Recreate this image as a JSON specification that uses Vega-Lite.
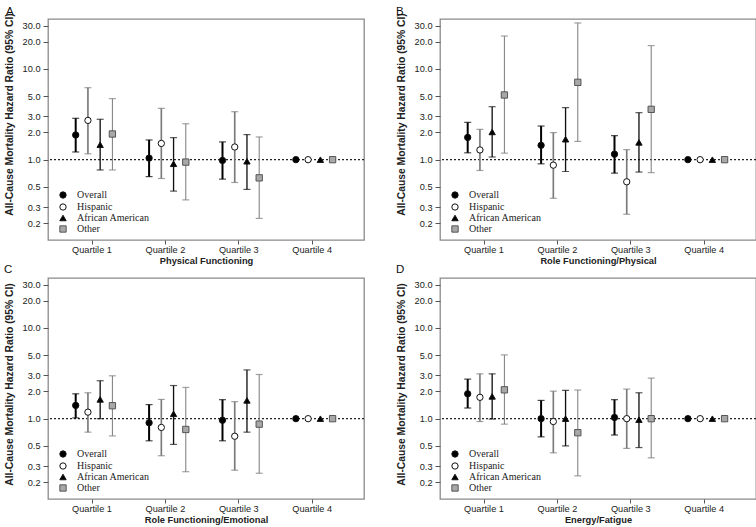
{
  "$schema": "https://vega.github.io/schema/vega-lite/v6.json",
  "padding": {"left": 3, "top": 5, "right": 2, "bottom": 0},
  "background": "white",
  "data": {"values": [
    {"panel":"A","q":"Quartile 1","s":"Overall","hr":1.87,"lo":1.215,"hi":2.86},
    {"panel":"A","q":"Quartile 1","s":"Hispanic","hr":2.71,"lo":1.16,"hi":6.22},
    {"panel":"A","q":"Quartile 1","s":"African American","hr":1.46,"lo":0.77,"hi":2.79},
    {"panel":"A","q":"Quartile 1","s":"Other","hr":1.92,"lo":0.77,"hi":4.71},
    {"panel":"A","q":"Quartile 2","s":"Overall","hr":1.04,"lo":0.65,"hi":1.65},
    {"panel":"A","q":"Quartile 2","s":"Hispanic","hr":1.51,"lo":0.62,"hi":3.68},
    {"panel":"A","q":"Quartile 2","s":"African American","hr":0.9,"lo":0.45,"hi":1.75},
    {"panel":"A","q":"Quartile 2","s":"Other","hr":0.94,"lo":0.36,"hi":2.49},
    {"panel":"A","q":"Quartile 3","s":"Overall","hr":0.98,"lo":0.61,"hi":1.57},
    {"panel":"A","q":"Quartile 3","s":"Hispanic","hr":1.38,"lo":0.56,"hi":3.38},
    {"panel":"A","q":"Quartile 3","s":"African American","hr":0.96,"lo":0.47,"hi":1.89},
    {"panel":"A","q":"Quartile 3","s":"Other","hr":0.63,"lo":0.225,"hi":1.78},
    {"panel":"A","q":"Quartile 4","s":"Overall","hr":1,"lo":null,"hi":null},
    {"panel":"A","q":"Quartile 4","s":"Hispanic","hr":1,"lo":null,"hi":null},
    {"panel":"A","q":"Quartile 4","s":"African American","hr":1,"lo":null,"hi":null},
    {"panel":"A","q":"Quartile 4","s":"Other","hr":1,"lo":null,"hi":null},

    {"panel":"B","q":"Quartile 1","s":"Overall","hr":1.76,"lo":1.19,"hi":2.58},
    {"panel":"B","q":"Quartile 1","s":"Hispanic","hr":1.28,"lo":0.76,"hi":2.16},
    {"panel":"B","q":"Quartile 1","s":"African American","hr":2.02,"lo":1.07,"hi":3.84},
    {"panel":"B","q":"Quartile 1","s":"Other","hr":5.17,"lo":1.18,"hi":23.1},
    {"panel":"B","q":"Quartile 2","s":"Overall","hr":1.44,"lo":0.9,"hi":2.35},
    {"panel":"B","q":"Quartile 2","s":"Hispanic","hr":0.87,"lo":0.375,"hi":1.99},
    {"panel":"B","q":"Quartile 2","s":"African American","hr":1.68,"lo":0.74,"hi":3.75},
    {"panel":"B","q":"Quartile 2","s":"Other","hr":7.13,"lo":1.59,"hi":32.2},
    {"panel":"B","q":"Quartile 3","s":"Overall","hr":1.15,"lo":0.71,"hi":1.84},
    {"panel":"B","q":"Quartile 3","s":"Hispanic","hr":0.57,"lo":0.25,"hi":1.29},
    {"panel":"B","q":"Quartile 3","s":"African American","hr":1.55,"lo":0.73,"hi":3.3},
    {"panel":"B","q":"Quartile 3","s":"Other","hr":3.59,"lo":0.72,"hi":18.1},
    {"panel":"B","q":"Quartile 4","s":"Overall","hr":1,"lo":null,"hi":null},
    {"panel":"B","q":"Quartile 4","s":"Hispanic","hr":1,"lo":null,"hi":null},
    {"panel":"B","q":"Quartile 4","s":"African American","hr":1,"lo":null,"hi":null},
    {"panel":"B","q":"Quartile 4","s":"Other","hr":1,"lo":null,"hi":null},

    {"panel":"C","q":"Quartile 1","s":"Overall","hr":1.4,"lo":1.02,"hi":1.88},
    {"panel":"C","q":"Quartile 1","s":"Hispanic","hr":1.18,"lo":0.71,"hi":1.93},
    {"panel":"C","q":"Quartile 1","s":"African American","hr":1.63,"lo":1.0,"hi":2.62},
    {"panel":"C","q":"Quartile 1","s":"Other","hr":1.39,"lo":0.645,"hi":2.97},
    {"panel":"C","q":"Quartile 2","s":"Overall","hr":0.9,"lo":0.57,"hi":1.43},
    {"panel":"C","q":"Quartile 2","s":"Hispanic","hr":0.8,"lo":0.39,"hi":1.63},
    {"panel":"C","q":"Quartile 2","s":"African American","hr":1.13,"lo":0.52,"hi":2.32},
    {"panel":"C","q":"Quartile 2","s":"Other","hr":0.76,"lo":0.26,"hi":2.21},
    {"panel":"C","q":"Quartile 3","s":"Overall","hr":0.96,"lo":0.57,"hi":1.62},
    {"panel":"C","q":"Quartile 3","s":"Hispanic","hr":0.64,"lo":0.27,"hi":1.54},
    {"panel":"C","q":"Quartile 3","s":"African American","hr":1.59,"lo":0.71,"hi":3.45},
    {"panel":"C","q":"Quartile 3","s":"Other","hr":0.87,"lo":0.25,"hi":3.07},
    {"panel":"C","q":"Quartile 4","s":"Overall","hr":1,"lo":null,"hi":null},
    {"panel":"C","q":"Quartile 4","s":"Hispanic","hr":1,"lo":null,"hi":null},
    {"panel":"C","q":"Quartile 4","s":"African American","hr":1,"lo":null,"hi":null},
    {"panel":"C","q":"Quartile 4","s":"Other","hr":1,"lo":null,"hi":null},

    {"panel":"D","q":"Quartile 1","s":"Overall","hr":1.88,"lo":1.31,"hi":2.73},
    {"panel":"D","q":"Quartile 1","s":"Hispanic","hr":1.72,"lo":0.93,"hi":3.12},
    {"panel":"D","q":"Quartile 1","s":"African American","hr":1.76,"lo":0.99,"hi":3.12},
    {"panel":"D","q":"Quartile 1","s":"Other","hr":2.08,"lo":0.87,"hi":5.05},
    {"panel":"D","q":"Quartile 2","s":"Overall","hr":1.0,"lo":0.63,"hi":1.59},
    {"panel":"D","q":"Quartile 2","s":"Hispanic","hr":0.93,"lo":0.42,"hi":2.01},
    {"panel":"D","q":"Quartile 2","s":"African American","hr":1.0,"lo":0.5,"hi":2.05},
    {"panel":"D","q":"Quartile 2","s":"Other","hr":0.7,"lo":0.234,"hi":2.07},
    {"panel":"D","q":"Quartile 3","s":"Overall","hr":1.03,"lo":0.66,"hi":1.62},
    {"panel":"D","q":"Quartile 3","s":"Hispanic","hr":1.0,"lo":0.47,"hi":2.12},
    {"panel":"D","q":"Quartile 3","s":"African American","hr":0.975,"lo":0.48,"hi":1.93},
    {"panel":"D","q":"Quartile 3","s":"Other","hr":1.0,"lo":0.37,"hi":2.8},
    {"panel":"D","q":"Quartile 4","s":"Overall","hr":1,"lo":null,"hi":null},
    {"panel":"D","q":"Quartile 4","s":"Hispanic","hr":1,"lo":null,"hi":null},
    {"panel":"D","q":"Quartile 4","s":"African American","hr":1,"lo":null,"hi":null},
    {"panel":"D","q":"Quartile 4","s":"Other","hr":1,"lo":null,"hi":null}
  ]},
  "columns": 2,
  "spacing": {"row": -5, "column": 29},
  "resolve": {
    "scale": {"fill": "independent", "shape": "independent", "stroke": "independent"},
    "legend": {"fill": "independent", "shape": "independent", "stroke": "independent"}
  },
  "concat": [
    {
      "title": {"text": "A", "offset": -5, "dx": 2},
      "width": 316, "height": 221,
      "layer": [
        {"data": {"values": [{"ref": 1}]}, "mark": {"type": "rule", "strokeDash": [2, 2], "color": "#222", "strokeWidth": 1.2},
         "encoding": {"y": {"field": "ref", "type": "quantitative", "scale": {"type": "log", "domain": [0.13, 35.6], "nice": false}, "axis": {"title": "All-Cause Mortality Hazard Ratio (95% CI)", "values": [0.2,0.3,0.5,1,2,3,5,10,20,30], "format": ".1f", "titleY": 95}}}},
        {
          "transform": [{"filter": "datum.panel === 'A'"}],
          "encoding": {
            "x": {"field": "q", "type": "nominal", "scale": {"paddingInner": 0, "paddingOuter": 0.1526, "align": 0.326}, "axis": {"title": "Physical Functioning", "labelAngle": 0}},
            "xOffset": {"field": "s", "type": "nominal", "scale": {"domain": ["Overall","Hispanic","African American","Other"], "paddingInner": 0, "paddingOuter": 2.993, "align": 0.5835}}
          },
          "layer": [
            {"mark": {"type": "rule"},
             "encoding": {
               "y": {"field": "lo", "type": "quantitative", "scale": {"type": "log", "domain": [0.13, 35.6], "nice": false}, "axis": {"title": "All-Cause Mortality Hazard Ratio (95% CI)", "values": [0.2,0.3,0.5,1,2,3,5,10,20,30], "format": ".1f", "titleY": 95}},
               "y2": {"field": "hi"},
               "color": {"field": "s", "type": "nominal", "scale": {"domain": ["Overall","Hispanic","African American","Other"], "range": ["#000000","#7a7a7a","#111111","#7a7a7a"]}, "legend": null},
               "strokeWidth": {"field": "s", "type": "ordinal", "scale": {"domain": ["Overall","Hispanic","African American","Other"], "range": [2, 1, 1, 1]}, "legend": null}
             }},
            {"mark": {"type": "tick", "orient": "horizontal", "size": 7, "thickness": 1.2},
             "encoding": {
               "y": {"field": "hi", "type": "quantitative", "scale": {"type": "log", "domain": [0.13, 35.6], "nice": false}, "axis": {"title": "All-Cause Mortality Hazard Ratio (95% CI)", "values": [0.2,0.3,0.5,1,2,3,5,10,20,30], "format": ".1f", "titleY": 95}},
               "color": {"field": "s", "type": "nominal", "scale": {"domain": ["Overall","Hispanic","African American","Other"], "range": ["#000000","#7a7a7a","#111111","#7a7a7a"]}, "legend": null}
             }},
            {"mark": {"type": "tick", "orient": "horizontal", "size": 7, "thickness": 1.2},
             "encoding": {
               "y": {"field": "lo", "type": "quantitative", "scale": {"type": "log", "domain": [0.13, 35.6], "nice": false}, "axis": {"title": "All-Cause Mortality Hazard Ratio (95% CI)", "values": [0.2,0.3,0.5,1,2,3,5,10,20,30], "format": ".1f", "titleY": 95}},
               "color": {"field": "s", "type": "nominal", "scale": {"domain": ["Overall","Hispanic","African American","Other"], "range": ["#000000","#7a7a7a","#111111","#7a7a7a"]}, "legend": null}
             }},
            {"mark": {"type": "point", "filled": true, "size": 40, "strokeWidth": 1, "opacity": 1},
             "encoding": {
               "y": {"field": "hr", "type": "quantitative", "scale": {"type": "log", "domain": [0.13, 35.6], "nice": false}, "axis": {"title": "All-Cause Mortality Hazard Ratio (95% CI)", "values": [0.2,0.3,0.5,1,2,3,5,10,20,30], "format": ".1f", "titleY": 95}},
               "shape": {"field": "s", "type": "nominal", "scale": {"domain": ["Overall","Hispanic","African American","Other"], "range": ["circle","circle","triangle-up","square"]}, "legend": {"title": null, "orient": "none", "legendX": 10, "legendY": 171}},
               "fill": {"field": "s", "type": "nominal", "scale": {"domain": ["Overall","Hispanic","African American","Other"], "range": ["#000000","#ffffff","#000000","#a8a8a8"]}, "legend": {"title": null, "orient": "none", "legendX": 10, "legendY": 171}},
               "stroke": {"field": "s", "type": "nominal", "scale": {"domain": ["Overall","Hispanic","African American","Other"], "range": ["#111111","#111111","#111111","#555555"]}, "legend": {"title": null, "orient": "none", "legendX": 10, "legendY": 171}}
             }}
          ]
        }
      ]
    },
    {
      "title": {"text": "B", "offset": -5},
      "width": 316, "height": 221,
      "layer": [
        {"data": {"values": [{"ref": 1}]}, "mark": {"type": "rule", "strokeDash": [2, 2], "color": "#222", "strokeWidth": 1.2},
         "encoding": {"y": {"field": "ref", "type": "quantitative", "scale": {"type": "log", "domain": [0.13, 35.6], "nice": false}, "axis": {"title": "All-Cause Mortality Hazard Ratio (95% CI)", "values": [0.2,0.3,0.5,1,2,3,5,10,20,30], "format": ".1f", "titleY": 95}}}},
        {
          "transform": [{"filter": "datum.panel === 'B'"}],
          "encoding": {
            "x": {"field": "q", "type": "nominal", "scale": {"paddingInner": 0, "paddingOuter": 0.1526, "align": 0.326}, "axis": {"title": "Role Functioning/Physical", "labelAngle": 0}},
            "xOffset": {"field": "s", "type": "nominal", "scale": {"domain": ["Overall","Hispanic","African American","Other"], "paddingInner": 0, "paddingOuter": 2.993, "align": 0.5835}}
          },
          "layer": [
            {"mark": {"type": "rule"},
             "encoding": {
               "y": {"field": "lo", "type": "quantitative", "scale": {"type": "log", "domain": [0.13, 35.6], "nice": false}, "axis": {"title": "All-Cause Mortality Hazard Ratio (95% CI)", "values": [0.2,0.3,0.5,1,2,3,5,10,20,30], "format": ".1f", "titleY": 95}},
               "y2": {"field": "hi"},
               "color": {"field": "s", "type": "nominal", "scale": {"domain": ["Overall","Hispanic","African American","Other"], "range": ["#000000","#7a7a7a","#111111","#7a7a7a"]}, "legend": null},
               "strokeWidth": {"field": "s", "type": "ordinal", "scale": {"domain": ["Overall","Hispanic","African American","Other"], "range": [2, 1, 1, 1]}, "legend": null}
             }},
            {"mark": {"type": "tick", "orient": "horizontal", "size": 7, "thickness": 1.2},
             "encoding": {
               "y": {"field": "hi", "type": "quantitative", "scale": {"type": "log", "domain": [0.13, 35.6], "nice": false}, "axis": {"title": "All-Cause Mortality Hazard Ratio (95% CI)", "values": [0.2,0.3,0.5,1,2,3,5,10,20,30], "format": ".1f", "titleY": 95}},
               "color": {"field": "s", "type": "nominal", "scale": {"domain": ["Overall","Hispanic","African American","Other"], "range": ["#000000","#7a7a7a","#111111","#7a7a7a"]}, "legend": null}
             }},
            {"mark": {"type": "tick", "orient": "horizontal", "size": 7, "thickness": 1.2},
             "encoding": {
               "y": {"field": "lo", "type": "quantitative", "scale": {"type": "log", "domain": [0.13, 35.6], "nice": false}, "axis": {"title": "All-Cause Mortality Hazard Ratio (95% CI)", "values": [0.2,0.3,0.5,1,2,3,5,10,20,30], "format": ".1f", "titleY": 95}},
               "color": {"field": "s", "type": "nominal", "scale": {"domain": ["Overall","Hispanic","African American","Other"], "range": ["#000000","#7a7a7a","#111111","#7a7a7a"]}, "legend": null}
             }},
            {"mark": {"type": "point", "filled": true, "size": 40, "strokeWidth": 1, "opacity": 1},
             "encoding": {
               "y": {"field": "hr", "type": "quantitative", "scale": {"type": "log", "domain": [0.13, 35.6], "nice": false}, "axis": {"title": "All-Cause Mortality Hazard Ratio (95% CI)", "values": [0.2,0.3,0.5,1,2,3,5,10,20,30], "format": ".1f", "titleY": 95}},
               "shape": {"field": "s", "type": "nominal", "scale": {"domain": ["Overall","Hispanic","African American","Other"], "range": ["circle","circle","triangle-up","square"]}, "legend": {"title": null, "orient": "none", "legendX": 10, "legendY": 171}},
               "fill": {"field": "s", "type": "nominal", "scale": {"domain": ["Overall","Hispanic","African American","Other"], "range": ["#000000","#ffffff","#000000","#a8a8a8"]}, "legend": {"title": null, "orient": "none", "legendX": 10, "legendY": 171}},
               "stroke": {"field": "s", "type": "nominal", "scale": {"domain": ["Overall","Hispanic","African American","Other"], "range": ["#111111","#111111","#111111","#555555"]}, "legend": {"title": null, "orient": "none", "legendX": 10, "legendY": 171}}
             }}
          ]
        }
      ]
    },
    {
      "title": {"text": "C", "offset": 3},
      "width": 316, "height": 221,
      "layer": [
        {"data": {"values": [{"ref": 1}]}, "mark": {"type": "rule", "strokeDash": [2, 2], "color": "#222", "strokeWidth": 1.2},
         "encoding": {"y": {"field": "ref", "type": "quantitative", "scale": {"type": "log", "domain": [0.13, 35.6], "nice": false}, "axis": {"title": "All-Cause Mortality Hazard Ratio (95% CI)", "values": [0.2,0.3,0.5,1,2,3,5,10,20,30], "format": ".1f", "titleY": 106}}}},
        {
          "transform": [{"filter": "datum.panel === 'C'"}],
          "encoding": {
            "x": {"field": "q", "type": "nominal", "scale": {"paddingInner": 0, "paddingOuter": 0.1526, "align": 0.326}, "axis": {"title": "Role Functioning/Emotional", "labelAngle": 0}},
            "xOffset": {"field": "s", "type": "nominal", "scale": {"domain": ["Overall","Hispanic","African American","Other"], "paddingInner": 0, "paddingOuter": 2.993, "align": 0.5835}}
          },
          "layer": [
            {"mark": {"type": "rule"},
             "encoding": {
               "y": {"field": "lo", "type": "quantitative", "scale": {"type": "log", "domain": [0.13, 35.6], "nice": false}, "axis": {"title": "All-Cause Mortality Hazard Ratio (95% CI)", "values": [0.2,0.3,0.5,1,2,3,5,10,20,30], "format": ".1f", "titleY": 106}},
               "y2": {"field": "hi"},
               "color": {"field": "s", "type": "nominal", "scale": {"domain": ["Overall","Hispanic","African American","Other"], "range": ["#000000","#7a7a7a","#111111","#7a7a7a"]}, "legend": null},
               "strokeWidth": {"field": "s", "type": "ordinal", "scale": {"domain": ["Overall","Hispanic","African American","Other"], "range": [2, 1, 1, 1]}, "legend": null}
             }},
            {"mark": {"type": "tick", "orient": "horizontal", "size": 7, "thickness": 1.2},
             "encoding": {
               "y": {"field": "hi", "type": "quantitative", "scale": {"type": "log", "domain": [0.13, 35.6], "nice": false}, "axis": {"title": "All-Cause Mortality Hazard Ratio (95% CI)", "values": [0.2,0.3,0.5,1,2,3,5,10,20,30], "format": ".1f", "titleY": 106}},
               "color": {"field": "s", "type": "nominal", "scale": {"domain": ["Overall","Hispanic","African American","Other"], "range": ["#000000","#7a7a7a","#111111","#7a7a7a"]}, "legend": null}
             }},
            {"mark": {"type": "tick", "orient": "horizontal", "size": 7, "thickness": 1.2},
             "encoding": {
               "y": {"field": "lo", "type": "quantitative", "scale": {"type": "log", "domain": [0.13, 35.6], "nice": false}, "axis": {"title": "All-Cause Mortality Hazard Ratio (95% CI)", "values": [0.2,0.3,0.5,1,2,3,5,10,20,30], "format": ".1f", "titleY": 106}},
               "color": {"field": "s", "type": "nominal", "scale": {"domain": ["Overall","Hispanic","African American","Other"], "range": ["#000000","#7a7a7a","#111111","#7a7a7a"]}, "legend": null}
             }},
            {"mark": {"type": "point", "filled": true, "size": 40, "strokeWidth": 1, "opacity": 1},
             "encoding": {
               "y": {"field": "hr", "type": "quantitative", "scale": {"type": "log", "domain": [0.13, 35.6], "nice": false}, "axis": {"title": "All-Cause Mortality Hazard Ratio (95% CI)", "values": [0.2,0.3,0.5,1,2,3,5,10,20,30], "format": ".1f", "titleY": 106}},
               "shape": {"field": "s", "type": "nominal", "scale": {"domain": ["Overall","Hispanic","African American","Other"], "range": ["circle","circle","triangle-up","square"]}, "legend": {"title": null, "orient": "none", "legendX": 10, "legendY": 171}},
               "fill": {"field": "s", "type": "nominal", "scale": {"domain": ["Overall","Hispanic","African American","Other"], "range": ["#000000","#ffffff","#000000","#a8a8a8"]}, "legend": {"title": null, "orient": "none", "legendX": 10, "legendY": 171}},
               "stroke": {"field": "s", "type": "nominal", "scale": {"domain": ["Overall","Hispanic","African American","Other"], "range": ["#111111","#111111","#111111","#555555"]}, "legend": {"title": null, "orient": "none", "legendX": 10, "legendY": 171}}
             }}
          ]
        }
      ]
    },
    {
      "title": {"text": "D", "offset": 3},
      "width": 316, "height": 221,
      "layer": [
        {"data": {"values": [{"ref": 1}]}, "mark": {"type": "rule", "strokeDash": [2, 2], "color": "#222", "strokeWidth": 1.2},
         "encoding": {"y": {"field": "ref", "type": "quantitative", "scale": {"type": "log", "domain": [0.13, 35.6], "nice": false}, "axis": {"title": "All-Cause Mortality Hazard Ratio (95% CI)", "values": [0.2,0.3,0.5,1,2,3,5,10,20,30], "format": ".1f", "titleY": 106}}}},
        {
          "transform": [{"filter": "datum.panel === 'D'"}],
          "encoding": {
            "x": {"field": "q", "type": "nominal", "scale": {"paddingInner": 0, "paddingOuter": 0.1526, "align": 0.326}, "axis": {"title": "Energy/Fatigue", "labelAngle": 0}},
            "xOffset": {"field": "s", "type": "nominal", "scale": {"domain": ["Overall","Hispanic","African American","Other"], "paddingInner": 0, "paddingOuter": 2.993, "align": 0.5835}}
          },
          "layer": [
            {"mark": {"type": "rule"},
             "encoding": {
               "y": {"field": "lo", "type": "quantitative", "scale": {"type": "log", "domain": [0.13, 35.6], "nice": false}, "axis": {"title": "All-Cause Mortality Hazard Ratio (95% CI)", "values": [0.2,0.3,0.5,1,2,3,5,10,20,30], "format": ".1f", "titleY": 106}},
               "y2": {"field": "hi"},
               "color": {"field": "s", "type": "nominal", "scale": {"domain": ["Overall","Hispanic","African American","Other"], "range": ["#000000","#7a7a7a","#111111","#7a7a7a"]}, "legend": null},
               "strokeWidth": {"field": "s", "type": "ordinal", "scale": {"domain": ["Overall","Hispanic","African American","Other"], "range": [2, 1, 1, 1]}, "legend": null}
             }},
            {"mark": {"type": "tick", "orient": "horizontal", "size": 7, "thickness": 1.2},
             "encoding": {
               "y": {"field": "hi", "type": "quantitative", "scale": {"type": "log", "domain": [0.13, 35.6], "nice": false}, "axis": {"title": "All-Cause Mortality Hazard Ratio (95% CI)", "values": [0.2,0.3,0.5,1,2,3,5,10,20,30], "format": ".1f", "titleY": 106}},
               "color": {"field": "s", "type": "nominal", "scale": {"domain": ["Overall","Hispanic","African American","Other"], "range": ["#000000","#7a7a7a","#111111","#7a7a7a"]}, "legend": null}
             }},
            {"mark": {"type": "tick", "orient": "horizontal", "size": 7, "thickness": 1.2},
             "encoding": {
               "y": {"field": "lo", "type": "quantitative", "scale": {"type": "log", "domain": [0.13, 35.6], "nice": false}, "axis": {"title": "All-Cause Mortality Hazard Ratio (95% CI)", "values": [0.2,0.3,0.5,1,2,3,5,10,20,30], "format": ".1f", "titleY": 106}},
               "color": {"field": "s", "type": "nominal", "scale": {"domain": ["Overall","Hispanic","African American","Other"], "range": ["#000000","#7a7a7a","#111111","#7a7a7a"]}, "legend": null}
             }},
            {"mark": {"type": "point", "filled": true, "size": 40, "strokeWidth": 1, "opacity": 1},
             "encoding": {
               "y": {"field": "hr", "type": "quantitative", "scale": {"type": "log", "domain": [0.13, 35.6], "nice": false}, "axis": {"title": "All-Cause Mortality Hazard Ratio (95% CI)", "values": [0.2,0.3,0.5,1,2,3,5,10,20,30], "format": ".1f", "titleY": 106}},
               "shape": {"field": "s", "type": "nominal", "scale": {"domain": ["Overall","Hispanic","African American","Other"], "range": ["circle","circle","triangle-up","square"]}, "legend": {"title": null, "orient": "none", "legendX": 10, "legendY": 171}},
               "fill": {"field": "s", "type": "nominal", "scale": {"domain": ["Overall","Hispanic","African American","Other"], "range": ["#000000","#ffffff","#000000","#a8a8a8"]}, "legend": {"title": null, "orient": "none", "legendX": 10, "legendY": 171}},
               "stroke": {"field": "s", "type": "nominal", "scale": {"domain": ["Overall","Hispanic","African American","Other"], "range": ["#111111","#111111","#111111","#555555"]}, "legend": {"title": null, "orient": "none", "legendX": 10, "legendY": 171}}
             }}
          ]
        }
      ]
    }
  ],
  "config": {
    "font": "Liberation Sans",
    "view": {"stroke": "#8a8a8a", "strokeWidth": 1.3},
    "title": {"anchor": "start", "frame": "bounds", "fontSize": 11.5, "fontWeight": "normal", "font": "Liberation Sans", "color": "#111"},
    "axis": {"labelFont": "Liberation Sans", "labelFontSize": 9.2, "labelColor": "#222", "titleFont": "Liberation Sans", "titleFontWeight": "bold", "titleColor": "#222", "tickColor": "#555", "tickSize": 5, "domain": false, "grid": false},
    "axisX": {"titleFontSize": 9.3, "labelPadding": 1, "titlePadding": 2, "tickSize": 4},
    "axisY": {"titleFontSize": 10.3, "labelPadding": 3, "titlePadding": 8},
    "legend": {"labelFont": "Liberation Serif", "labelFontSize": 10, "labelColor": "#222", "symbolSize": 40, "rowPadding": 0, "labelOffset": 9, "symbolStrokeWidth": 1, "padding": 0}
  }
}
